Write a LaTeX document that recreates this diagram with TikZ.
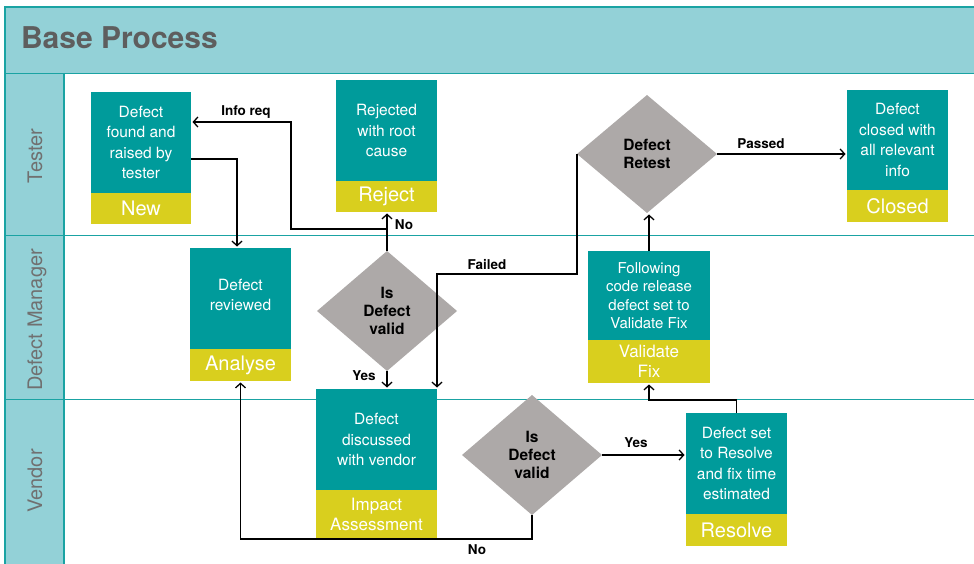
\documentclass[tikz,border=0pt]{standalone}
\usepackage{fontspec}
\setmainfont{TeX Gyre Heros}
\usetikzlibrary{shapes.geometric,arrows.meta}
\definecolor{boxteal}{HTML}{009B9B}
\definecolor{boxyellow}{HTML}{D9CF1E}
\definecolor{diagray}{HTML}{ADA9A8}
\definecolor{lanefill}{HTML}{93D1D7}
\definecolor{laneline}{HTML}{1AA3A3}
\definecolor{titlegray}{HTML}{5E5E5E}
\definecolor{lanegray}{HTML}{707070}
\begin{document}
\begin{tikzpicture}[x=1pt,y=-1pt,
  every node/.style={inner sep=0pt, outer sep=0pt},
  lanestroke/.style={draw=laneline, line width=1.6pt},
  lanelabel/.style={rotate=90, anchor=base, text=lanegray, font=\fontsize{20}{24}\selectfont},
  tbox/.style={fill=boxteal, text=white, align=center, font=\fontsize{15.5}{20.5}\selectfont},
  ybox/.style={fill=boxyellow, text=white, align=center, anchor=north, font=\fontsize{20}{24}\selectfont},
  ybox2/.style={ybox, font=\fontsize{17}{20}\selectfont},
  dia/.style={diamond, fill=diagray, inner sep=0pt, align=center, minimum width=140pt, minimum height=120pt, font=\bfseries\fontsize{15.5}{18}\selectfont},
  conn/.style={draw=black, line width=1.3pt, -{Straight Barb[length=4.5pt,width=10pt,line width=1.3pt]}, shorten >=1.5pt},
  lbl/.style={font=\bfseries\fontsize{13.5}{15}\selectfont, text=black}
]
\useasboundingbox (0,0) rectangle (974,564);
% swim lanes
\fill[lanefill] (5,7) rectangle (980,73.5);
\fill[lanefill] (5,73.5) rectangle (64,570);
\draw[lanestroke] (980,7) -- (5,7) -- (5,570);
\draw[lanestroke] (5,73.5) -- (980,73.5);
\draw[lanestroke] (5,235.5) -- (980,235.5);
\draw[lanestroke] (5,399.5) -- (980,399.5);
\draw[lanestroke] (64,73.5) -- (64,570);
\node[anchor=base west, text=titlegray, font=\bfseries\fontsize{30}{34}\selectfont] (title) at (21,49) {Base Process};
\node[lanelabel] (laneT) at (42,156) {Tester};
\node[lanelabel] (laneM) at (42,320) {Defect Manager};
\node[lanelabel] (laneV) at (42,481) {Vendor};

% boxes
\node[tbox, minimum width=100pt, minimum height=101pt] (newT) at (141,142.5) {Defect\\found and\\raised by\\tester};
\node[ybox, minimum width=100pt, minimum height=31pt] (newY) at (newT.south) {New};

\node[tbox, minimum width=101pt, minimum height=101pt] (rejT) at (386.5,130.5) {Rejected\\with root\\cause};
\node[ybox, minimum width=101pt, minimum height=31pt] (rejY) at (rejT.south) {Reject};

\node[tbox, minimum width=101pt, minimum height=100pt] (cloT) at (897.5,140) {Defect\\closed with\\all relevant\\info};
\node[ybox, minimum width=101pt, minimum height=32pt] (cloY) at (cloT.south) {Closed};

\node[tbox, minimum width=101pt, minimum height=101pt] (anaT) at (240.5,298.5) {};
\node[tbox, fill=none] (anaTxt) at (240.5,295) {Defect\\reviewed};
\node[ybox, minimum width=101pt, minimum height=32pt] (anaY) at (anaT.south) {Analyse};

\node[tbox, minimum width=121pt, minimum height=101pt] (impT) at (376.5,439.5) {Defect\\discussed\\with vendor};
\node[ybox2, minimum width=121pt, minimum height=49pt] (impY) at (impT.south) {Impact\\Assessment};

\node[tbox, minimum width=122pt, minimum height=89pt, font=\fontsize{15}{18.5}\selectfont] (valT) at (649,295.5) {Following\\code release\\defect set to\\Validate Fix};
\node[ybox2, minimum width=122pt, minimum height=43pt] (valY) at (valT.south) {Validate\\Fix};

\node[tbox, minimum width=101pt, minimum height=101pt] (resT) at (736.5,463.5) {Defect set\\to Resolve\\and fix time\\estimated};
\node[ybox, minimum width=101pt, minimum height=32pt] (resY) at (resT.south) {Resolve};

% decisions
\node[dia] (d1) at (387,311) {Is\\Defect\\valid};
\node[dia] (d2) at (532,455) {Is\\Defect\\valid};
\node[dia, minimum height=118pt] (d3) at (647,154) {Defect\\Retest};

% connectors
\draw[conn] ([yshift=-16.5pt]newT.east) -| ([xshift=-3.5pt]anaT.north);
\draw[conn] (d1.north) -- (d1.north |- rejY.south);
\coordinate (infoJ) at (387,229);
\coordinate (infoBend) at (291,122);
\draw[conn] (infoJ) -| (infoBend) -- (newT.east |- infoBend);
\coordinate (failBend) at (437,274);
\draw[conn] (d3.west) |- (failBend) -- (failBend |- impT.north);
\draw[conn] (d1.south) -- (d1.south |- impT.north);
\draw[conn] (d2.east) -- (resT.west |- d2.east);
\coordinate (noBend) at (240.5,539);
\draw[conn] (d2.south) |- (noBend) -- (anaY.south);
\coordinate (resBend) at (649,400);
\draw[conn] (resT.north) |- (resBend) -- (valY.south);
\draw[conn] (valT.north) -- (valT.north |- d3.south);
\draw[conn] (d3.east) -- (cloT.west |- d3.east);

% labels
\node[lbl] (lInfo) at (246,112) {Info req};
\node[lbl] (lNo1) at (404,224.5) {No};
\node[lbl] (lFail) at (487,265) {Failed};
\node[lbl] (lYes1) at (364,376) {Yes};
\node[lbl] (lYes2) at (636,443) {Yes};
\node[lbl] (lNo2) at (477,550) {No};
\node[lbl] (lPass) at (761,144) {Passed};
\end{tikzpicture}
\end{document}
